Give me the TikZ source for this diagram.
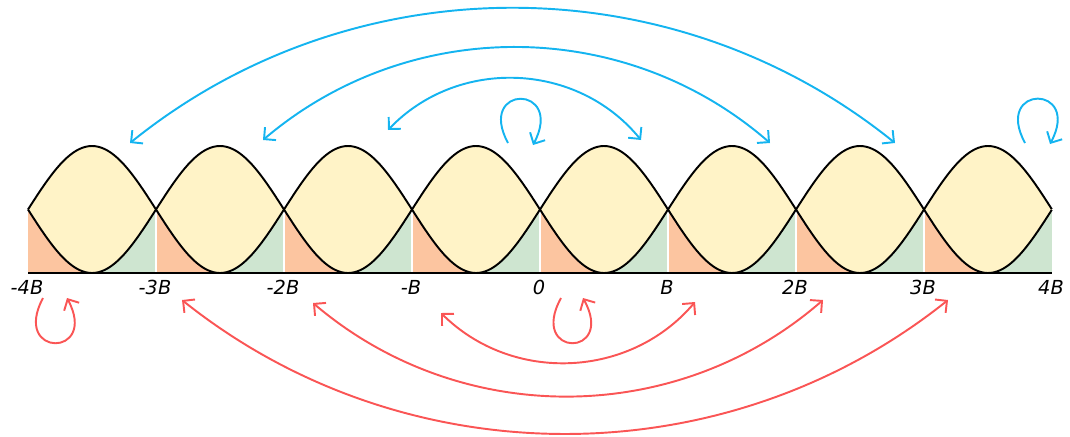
\documentclass[tikz,border=0pt]{standalone}
\usepackage{fontspec}
\setmainfont{DejaVu Sans}
\usetikzlibrary{arrows.meta}
\definecolor{lobeyel}{RGB}{255,243,199}
\definecolor{lobeora}{RGB}{252,197,160}
\definecolor{lobegrn}{RGB}{206,229,208}
\definecolor{bluearr}{RGB}{20,180,240}
\definecolor{redarr}{RGB}{250,85,85}
\tikzset{
  tlab/.style={font=\fontsize{11}{13}\selectfont\itshape},
  crv/.style={black, line width=1.1pt},
  barr/.style={{Straight Barb[length=1.7mm,width=3.4mm]}-{Straight Barb[length=1.7mm,width=3.4mm]}, bluearr, line width=1.1pt},
  rarr/.style={{Straight Barb[length=1.7mm,width=3.4mm]}-{Straight Barb[length=1.7mm,width=3.4mm]}, redarr, line width=1.1pt},
  bloop/.style={-{Straight Barb[length=1.7mm,width=3.4mm]}, bluearr, line width=1.1pt},
  rloop/.style={-{Straight Barb[length=1.7mm,width=3.4mm]}, redarr, line width=1.1pt},
}

\begin{document}
\begin{tikzpicture}[x=0.02cm,y=-0.02cm]
\useasboundingbox (0,0) rectangle (1070,436);
% side bands
\foreach \k in {0,...,7} {
  \fill[lobeora] (28+128*\k,209.5) rectangle (92+128*\k,273);
  \fill[lobegrn] (92+128*\k,209.5) rectangle (156+128*\k,273);
}
% lobes
\fill[lobeyel] plot[variable=\t, domain=0:8, samples=321] ({28+128*\t},{209.5-63.5*sin(180*\t)})
  -- plot[variable=\t, domain=8:0, samples=321] ({28+128*\t},{209.5+63.5*sin(180*\t)}) -- cycle;
\foreach \k in {1,...,7}
  \draw[white, line width=1pt] (28+128*\k,209.5) -- (28+128*\k,273);
\draw[crv, line join=round] plot[variable=\t, domain=0:8, samples=321] ({28+128*\t},{209.5-63.5*sin(180*\t)});
\draw[crv, line join=round] plot[variable=\t, domain=0:8, samples=321] ({28+128*\t},{209.5+63.5*sin(180*\t)});
\draw[crv] (28,273) -- (1052,273);
% tick labels
\foreach \k/\lab in {0/-4B,1/-3B,2/-2B,3/-B,4/0,5/B,6/2B,7/3B,8/4B}
  \node[tlab] (t\k) at (27+128*\k,287.5) {\lab};
% arrow ends
\coordinate (b1l) at (388,130); \coordinate (b1r) at (641,140);
\coordinate (b2l) at (263,140); \coordinate (b2r) at (770,143);
\coordinate (b3l) at (130,143); \coordinate (b3r) at (895,143);
\coordinate (r1l) at (441,313); \coordinate (r1r) at (695,302);
\coordinate (r2l) at (313,303); \coordinate (r2r) at (823,300);
\coordinate (r3l) at (182,300); \coordinate (r3r) at (948,300);
\coordinate (bl1s) at (508,143); \coordinate (bl1e) at (533,145);
\coordinate (bl2s) at (1025,143); \coordinate (bl2e) at (1050,144);
\coordinate (rl1s) at (43,298); \coordinate (rl1e) at (67,298);
\coordinate (rl2s) at (561,298); \coordinate (rl2e) at (583,298);
% blue
\draw[barr] (b1l) to[bend left=48.5, looseness=1.02] (b1r);
\draw[barr] (b2l) to[bend left=40.7, looseness=0.97] (b2r);
\draw[barr] (b3l) to[bend left=38.9, looseness=0.96] (b3r);
\draw[bloop] (bl1s) .. controls +(-32,-59) and +(32,-61) .. (bl1e);
\draw[bloop] (bl2s) .. controls +(-32,-59) and +(32,-60) .. (bl2e);
% red
\draw[rarr] (r1l) to[bend right=47.2, looseness=1.01] (r1r);
\draw[rarr] (r2l) to[bend right=40.7, looseness=0.97] (r2r);
\draw[rarr] (r3l) to[bend right=38.6, looseness=0.956] (r3r);
\draw[rloop] (rl1s) .. controls +(-32,60) and +(32,60) .. (rl1e);
\draw[rloop] (rl2s) .. controls +(-33,60) and +(33,60) .. (rl2e);
\end{tikzpicture}
\end{document}
